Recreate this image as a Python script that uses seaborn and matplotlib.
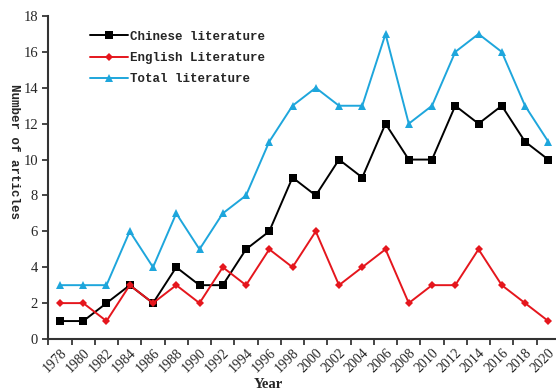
import numpy as np
import pandas as pd
import seaborn as sns
import matplotlib.pyplot as plt

# data
years = [1978, 1980, 1982, 1984, 1986, 1988, 1990, 1992, 1994, 1996, 1998,
         2000, 2002, 2004, 2006, 2008, 2010, 2012, 2014, 2016, 2018, 2020]
chinese = [1, 1, 2, 3, 2, 4, 3, 3, 5, 6, 9, 8, 10, 9, 12, 10, 10, 13, 12, 13, 11, 10]
english = [2, 2, 1, 3, 2, 3, 2, 4, 3, 5, 4, 6, 3, 4, 5, 2, 3, 3, 5, 3, 2, 1]
total = [3, 3, 3, 6, 4, 7, 5, 7, 8, 11, 13, 14, 13, 13, 17, 12, 13, 16, 17, 16, 13, 11]

sns.set_style('white')
plt.rcParams['font.family'] = ['Liberation Serif', 'DejaVu Serif']

pos = np.arange(len(years))
df = pd.DataFrame({'pos': pos, 'Chinese': chinese, 'English': english, 'Total': total})

fig = plt.figure(figsize=(5.56, 3.91), dpi=100)
ax = fig.add_axes([0.087, 0.133, 0.92, 0.826])

sns.lineplot(data=df, x='pos', y='Chinese', ax=ax, color='black', marker='s',
             markersize=6, markeredgewidth=0, linewidth=1.4, label='Chinese literature')
sns.lineplot(data=df, x='pos', y='English', ax=ax, color='#e5161d', marker='D',
             markersize=4.5, markeredgewidth=0, linewidth=1.4, label='English Literature')
sns.lineplot(data=df, x='pos', y='Total', ax=ax, color='#1ea6dc', marker='^',
             markersize=6, markeredgewidth=0, linewidth=1.4, label='Total literature')

ax.set_xlim(-0.5, len(years) - 0.5)
ax.set_ylim(0, 18)
ax.set_yticks(range(0, 19, 2))
ax.set_xticks(pos)
ax.set_xticklabels([str(y) for y in years], rotation=45, ha='right',
                   rotation_mode='anchor', fontsize=10)
ax.set_xticks(np.arange(-0.5, len(years), 1), minor=True)
ax.tick_params(axis='x', which='major', length=0, pad=5)
ax.tick_params(axis='x', which='minor', length=4, width=1.2, direction='out', bottom=True)
ax.tick_params(axis='y', length=4, width=1.2, direction='out', left=True, labelsize=10.5)

for s in ['top', 'right']:
    ax.spines[s].set_visible(False)
for s in ['left', 'bottom']:
    ax.spines[s].set_color('#333333')
    ax.spines[s].set_linewidth(1.5)

ax.set_xlabel('Year', fontsize=10.5, fontweight='bold', va='bottom')
ax.xaxis.set_label_coords(0.43, -0.162)
ax.set_ylabel('Number of articles', fontsize=9, rotation=-90, fontweight='bold',
              family='Liberation Mono', va='center', ha='center')
ax.yaxis.set_label_coords(-0.068, 0.58)

leg = ax.legend(loc='upper left', bbox_to_anchor=(0.06, 0.99), frameon=False,
                handlelength=3.0, handletextpad=0.2, labelspacing=0.75,
                prop={'family': 'Liberation Mono', 'weight': 'bold', 'size': 9})

fig.savefig('out.png', dpi=100)
